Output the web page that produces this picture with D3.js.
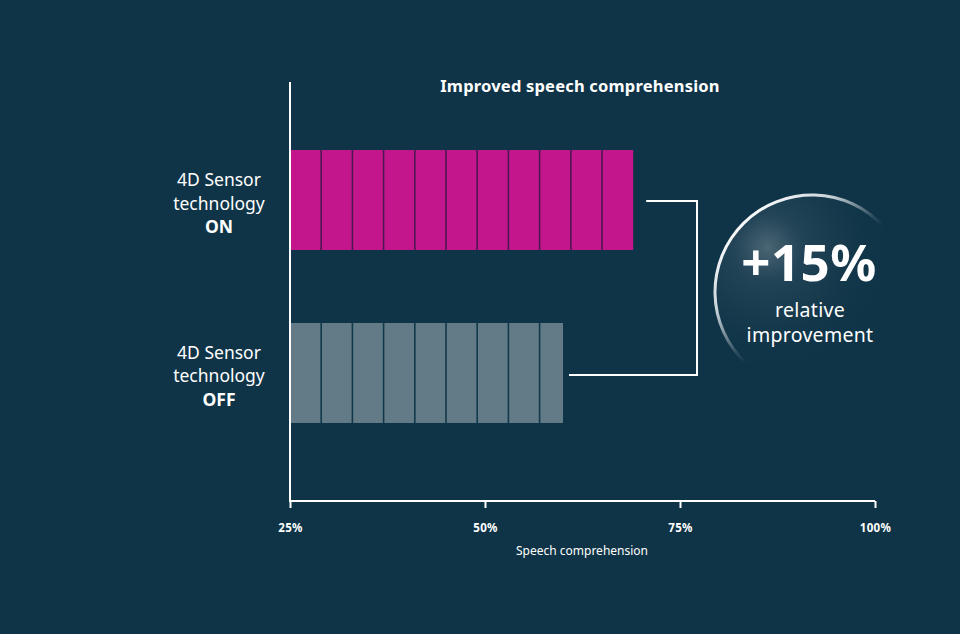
<!DOCTYPE html>
<html><head><meta charset="utf-8">
<script src="https://cdn.jsdelivr.net/npm/d3@7"></script>
<style>
html,body{margin:0;padding:0;background:#0f3447;}
svg{display:block;}
text{font-family:"Noto Sans","Open Sans",sans-serif;fill:#ffffff;}
</style></head>
<body>
<svg id="chart" width="960" height="634"></svg>
<script>
// ---- data ----
const categories = ["ON", "OFF"];
const labelLines = [["4D Sensor", "technology", "ON"], ["4D Sensor", "technology", "OFF"]];
const values = [69, 60];           // speech comprehension (%)
const segmentStep = 4;             // each bar block = 4 percentage points
const tickValues = [25, 50, 75, 100];
const tickLabels = ["25%", "50%", "75%", "100%"];
const title = "Improved speech comprehension";
const axisTitle = "Speech comprehension";
const badge = ["+15%", "relative", "improvement"];
const colors = ["#c4168c", "#627b87"];
const sepColors = ["#4e1752", "#12384b"];

const svg = d3.select("#chart");
svg.append("rect").attr("width", 960).attr("height", 634).attr("fill", "#0f3447");

const x = d3.scaleLinear().domain([25, 100]).range([290, 875]);
const y = d3.scaleBand().domain(categories).range([113, 460]).paddingInner(0.422).paddingOuter(0.214);

// bars
categories.forEach((c, i) => {
  const g = svg.append("g");
  g.append("rect")
    .attr("x", x(25)).attr("y", y(c))
    .attr("width", x(values[i]) - x(25)).attr("height", y.bandwidth())
    .attr("fill", colors[i]);
  const seps = d3.range(25 + segmentStep, values[i], segmentStep);
  g.selectAll("line").data(seps).join("line")
    .attr("x1", d => x(d)).attr("x2", d => x(d))
    .attr("y1", y(c)).attr("y2", y(c) + y.bandwidth())
    .attr("stroke", sepColors[i]).attr("stroke-width", 1.6);
});

// axes
const xAxis = d3.axisBottom(x).tickValues(tickValues).tickFormat((d, i) => tickLabels[i]).tickSize(7).tickPadding(16);
const ax = svg.append("g").attr("transform", "translate(0,501)").call(xAxis);
ax.select(".domain").attr("stroke", "#fff").attr("stroke-width", 2).attr("d", `M${x(25)},0H${x(100)}`);
ax.selectAll(".tick line").attr("stroke", "#fff").attr("stroke-width", 2);
ax.selectAll(".tick text").attr("fill", "#fff").style("font-size", "11.5px").style("font-weight", "bold")
  .style("font-family", '"Noto Sans",sans-serif').style("letter-spacing", "0.3px");
svg.append("line").attr("x1", x(25)).attr("x2", x(25)).attr("y1", 82).attr("y2", 502)
  .attr("stroke", "#fff").attr("stroke-width", 2);

svg.append("text").attr("x", 582).attr("y", 555).attr("text-anchor", "middle")
  .style("font-size", "12px").text(axisTitle);
svg.append("text").attr("x", 580).attr("y", 92).attr("text-anchor", "middle")
  .style("font-size", "16.5px").style("font-weight", "bold").style("letter-spacing", "0.2px").text(title);

// category labels
categories.forEach((c, i) => {
  const cy = y(c) + y.bandwidth() / 2;
  labelLines[i].forEach((t, j) => {
    svg.append("text").attr("x", 219).attr("y", cy + 9.5 + (j - 1) * 23.5)
      .attr("text-anchor", "middle")
      .style("font-size", "17.5px").style("font-weight", j === 2 ? "bold" : "normal").text(t);
  });
});

// bracket
const yOn = y("ON") + y.bandwidth() / 2 + 1, yOff = y("OFF") + y.bandwidth() / 2 + 2;
svg.append("path")
  .attr("d", `M${x(values[0]) + 13},${yOn}H697V${yOff}H${x(values[1]) + 6}`)
  .attr("fill", "none").attr("stroke", "#fff").attr("stroke-width", 2);

// badge circle
const cx = 812, cy = 292, r = 97;
const defs = svg.append("defs");
const rg = defs.append("radialGradient").attr("id", "glow")
  .attr("cx", 0.27).attr("cy", 0.27).attr("r", 0.7);
rg.append("stop").attr("offset", 0).attr("stop-color", "#566f7d").attr("stop-opacity", 0.85);
rg.append("stop").attr("offset", 0.25).attr("stop-color", "#2a4b5d").attr("stop-opacity", 0.7);
rg.append("stop").attr("offset", 0.7).attr("stop-color", "#17394c").attr("stop-opacity", 0.4);
rg.append("stop").attr("offset", 1).attr("stop-color", "#0f3447").attr("stop-opacity", 0);
// gradient in the arc's local (translated) coordinates
const lg = defs.append("linearGradient").attr("id", "ring").attr("gradientUnits", "userSpaceOnUse")
  .attr("x1", -72).attr("y1", -72).attr("x2", 2).attr("y2", 2);
lg.append("stop").attr("offset", 0).attr("stop-color", "#ffffff").attr("stop-opacity", 1);
lg.append("stop").attr("offset", 0.45).attr("stop-color", "#e8eef2").attr("stop-opacity", 0.85);
lg.append("stop").attr("offset", 0.85).attr("stop-color", "#ffffff").attr("stop-opacity", 0.15);
lg.append("stop").attr("offset", 1).attr("stop-color", "#ffffff").attr("stop-opacity", 0);

svg.append("circle").attr("cx", cx).attr("cy", cy).attr("r", r).attr("fill", "url(#glow)");
const arc = d3.arc().innerRadius(r - 1.5).outerRadius(r + 1.5)
  .startAngle(-137.5 * Math.PI / 180).endAngle(48 * Math.PI / 180);
svg.append("path").attr("transform", `translate(${cx},${cy})`).attr("d", arc())
  .attr("fill", "url(#ring)");

svg.append("text").attr("x", 809).attr("y", 281).attr("text-anchor", "middle")
  .style("font-size", "51px").style("font-weight", "bold").style("letter-spacing", "0.5px").text(badge[0]);
svg.append("text").attr("x", 810).attr("y", 317).attr("text-anchor", "middle")
  .style("font-size", "19.5px").style("letter-spacing", "0.3px").text(badge[1]);
svg.append("text").attr("x", 810).attr("y", 342).attr("text-anchor", "middle")
  .style("font-size", "19.5px").style("letter-spacing", "0.3px").text(badge[2]);
</script>
</body></html>
